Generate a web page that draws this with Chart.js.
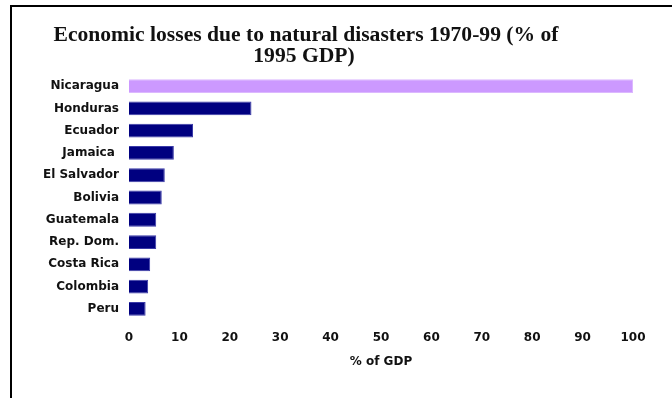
<!DOCTYPE html>
<html>
<head>
<meta charset="utf-8">
<script src="https://cdn.jsdelivr.net/npm/chart.js@4/dist/chart.umd.min.js"></script>
<style>
  html, body { margin: 0; padding: 0; background: #fff; }
  #wrap { position: relative; width: 672px; height: 398px; overflow: hidden; }
  #frame {
    position: absolute; left: 10px; top: 5px; right: -4px; bottom: -4px;
    border-top: 2px solid #000; border-left: 2px solid #000;
  }
  canvas { position: absolute; left: 0; top: 0; }
</style>
</head>
<body>
<div id="wrap">
  <div id="frame"></div>
  <canvas id="lossChart" width="672" height="398"></canvas>
</div>
<script>
// Economic losses 1970-99, % of 1995 GDP
const countries = ["Nicaragua", "Honduras", "Ecuador", "Jamaica ", "El Salvador", "Bolivia",
  "Guatemala", "Rep. Dom.", "Costa Rica", "Colombia", "Peru"];
const losses = [100, 24.3, 12.7, 8.9, 7.1, 6.5, 5.4, 5.4, 4.2, 3.8, 3.3];
const xTicks = [0, 10, 20, 30, 40, 50, 60, 70, 80, 90, 100];
const titleLines = ["Economic losses due to natural disasters 1970-99 (% of", "1995 GDP)"];

const fillColors = countries.map((c, i) => i === 0 ? "#cc99ff" : "#000080");
const edgeColors = countries.map((c, i) => i === 0 ? "#dcb8ff" : "#3a3aa8");

// draws the two-line serif heading above the plot
const headingPlugin = {
  id: "heading",
  afterDraw(chart) {
    const ctx = chart.ctx;
    ctx.save();
    ctx.fillStyle = "#111";
    ctx.font = "bold 21.6px 'Liberation Serif', 'Times New Roman', serif";
    ctx.textAlign = "center";
    ctx.textBaseline = "alphabetic";
    ctx.fillText(titleLines[0], 306, 41);
    ctx.fillText(titleLines[1], 304, 62);
    ctx.restore();
  }
};

const labelFont = { family: "'DejaVu Sans', Verdana, sans-serif", size: 12, weight: "bold" };

new Chart(document.getElementById("lossChart"), {
  type: "bar",
  data: {
    labels: countries,
    datasets: [{
      data: losses,
      backgroundColor: fillColors,
      borderColor: edgeColors,
      borderWidth: 1,
      barPercentage: 0.62,
      categoryPercentage: 1.0
    }]
  },
  options: {
    indexAxis: "y",
    responsive: false,
    animation: false,
    layout: { padding: { left: 0, top: 75, right: 39, bottom: 25 } },
    plugins: {
      legend: { display: false },
      tooltip: { enabled: false }
    },
    scales: {
      x: {
        min: 0,
        max: 100,
        afterBuildTicks(scale) { scale.ticks = xTicks.map(v => ({ value: v })); },
        afterFit(scale) { scale.height = 53; },
        grid: { display: false, drawTicks: false },
        border: { display: false },
        ticks: { color: "#111", font: labelFont, padding: 11, maxRotation: 0 },
        title: { display: true, text: "% of GDP", color: "#111", font: labelFont, padding: { top: 11 } }
      },
      y: {
        afterFit(scale) { scale.width = 129; },
        grid: { display: false, drawTicks: false },
        border: { display: false },
        ticks: { color: "#111", font: labelFont, padding: 10 }
      }
    }
  },
  plugins: [headingPlugin]
});
</script>
</body>
</html>
